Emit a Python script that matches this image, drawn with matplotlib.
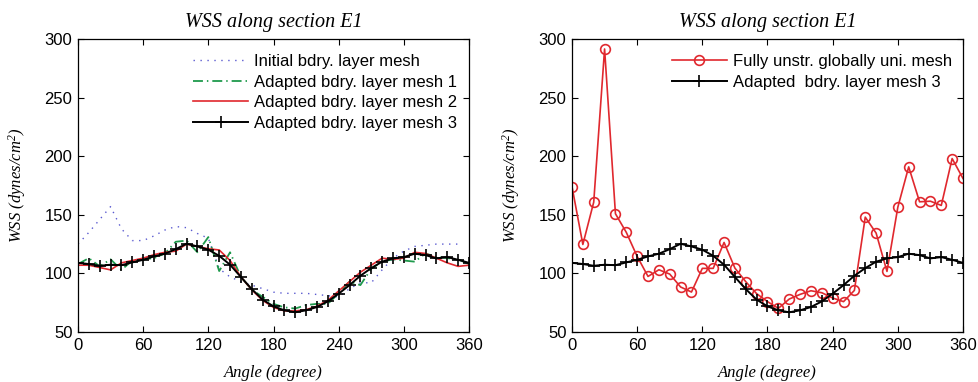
# -*- coding: utf-8 -*-
"""
WSS along section E1: boundary layer mesh comparison (left) and
fully unstructured mesh vs adapted mesh 3 (right).
"""
import matplotlib
matplotlib.use("Agg")
import matplotlib.pyplot as plt

# Data
angle = list(range(0, 361, 10))
angle_initial = list(range(0, 351, 10))

wss_initial = [125, 135, 146, 157, 138, 128, 128, 132, 137, 140,
               139, 134, 130, 104, 97, 93, 90, 87, 84, 83,
               83, 83, 82, 81, 80, 87, 92, 92, 103, 113,
               119, 123, 124, 125, 125, 125]

wss_mesh1 = [108, 113, 106, 112, 103, 111, 112, 113, 117, 127,
             128, 118, 131, 102, 118, 97, 86, 80, 74, 71,
             70, 73, 74, 74, 83, 93, 90, 104, 110, 112,
             111, 110, 117, 114, 113, 112, 108]

wss_mesh2 = [107, 107, 105, 103, 109, 111, 113, 116, 118, 119,
             125, 123, 121, 120, 111, 97, 86, 77, 71, 68,
             68, 69, 72, 77, 85, 93, 101, 107, 113, 112,
             113, 118, 117, 113, 109, 106, 107]

wss_mesh3 = [109, 108, 106.5, 107.4, 107, 109.4, 111.6, 114.5, 116.8, 120.7,
             125.3, 123, 120.2, 115, 107.4, 96.9, 86.6, 77.6, 71.9, 68.5,
             66.8, 68.5, 71.3, 76.1, 82.7, 90, 98, 104.5, 110, 112.8,
             113.9, 116.8, 115.6, 112.8, 113.9, 111.6, 109]

wss_unstr = [174, 124.7, 160.8, 291.5, 150.9, 135, 114.5, 97.4, 103.1, 99.4,
             88.4, 84.1, 104.3, 104.3, 126.4, 104.5, 92.9, 82.7, 75.9, 70.2,
             78.1, 82.1, 85.2, 83.5, 79, 75.9, 85.5, 148, 134.4, 101.7,
             156.5, 190.9, 161.1, 161.6, 158, 198, 181]

x_ticks = [0, 60, 120, 180, 240, 300, 360]
y_ticks = [50, 100, 150, 200, 250, 300]

# Fonts
plt.rcParams["font.family"] = "Liberation Sans"
plt.rcParams["mathtext.fontset"] = "custom"
plt.rcParams["mathtext.it"] = "Liberation Serif:italic"
plt.rcParams["mathtext.rm"] = "Liberation Serif:italic"

BLUE = "#5a5ad0"
GREEN = "#1f9a4c"
RED = "#e0282e"

serif_it = {"family": "Liberation Serif", "style": "italic"}

W, H = 979, 382
fig = plt.figure(figsize=(W / 100, H / 100), dpi=100)
ax1 = fig.add_axes([78 / W, 50 / H, 391 / W, 293 / H])
ax2 = fig.add_axes([572 / W, 50 / H, 391 / W, 293 / H])


def style_axes(ax):
    ax.set_xlim(0, 360)
    ax.set_ylim(50, 300)
    ax.set_xticks(x_ticks)
    ax.set_yticks(y_ticks)
    ax.tick_params(direction="in", length=4, width=0.8, top=True,
                   right=True, labelsize=12, pad=4)
    for sp in ax.spines.values():
        sp.set_linewidth(0.9)
    ax.set_title("WSS along section E1", fontdict=serif_it, fontsize=14.5,
                 pad=9)
    ax.set_xlabel("Angle (degree)", fontdict=serif_it, fontsize=12,
                  labelpad=9)
    ax.set_ylabel(r"WSS (dynes/cm$^2$)", fontdict=serif_it, fontsize=12,
                  labelpad=12)


# Left panel
ax1.plot(angle_initial, wss_initial, color=BLUE, lw=1.0,
         linestyle=(0, (1, 4)), label="Initial bdry. layer mesh")
ax1.plot(angle, wss_mesh1, color=GREEN, lw=1.3,
         linestyle=(0, (5.5, 2.2, 0.8, 2.2)),
         label="Adapted bdry. layer mesh 1")
ax1.plot(angle, wss_mesh2, color=RED, lw=1.2,
         label="Adapted bdry. layer mesh 2")
ax1.plot(angle, wss_mesh3, color="black", lw=1.4, marker="+",
         markersize=8, markeredgewidth=1.2,
         label="Adapted bdry. layer mesh 3")
style_axes(ax1)
ax1.legend(loc="upper left", bbox_to_anchor=(0.295, 0.948), frameon=False,
           fontsize=12, handlelength=3.3, handletextpad=0.35,
           labelspacing=0.33, borderpad=0, borderaxespad=0)

# Right panel
ax2.plot(angle, wss_unstr, color=RED, lw=1.2, marker="o", markersize=7,
         markerfacecolor="none", markeredgewidth=1.2,
         label="Fully unstr. globally uni. mesh")
ax2.plot(angle, wss_mesh3, color="black", lw=1.4, marker="+",
         markersize=8, markeredgewidth=1.2,
         label="Adapted  bdry. layer mesh 3")
style_axes(ax2)
ax2.legend(loc="upper left", bbox_to_anchor=(0.255, 0.948), frameon=False,
           fontsize=12, handlelength=3.3, handletextpad=0.35,
           labelspacing=0.33, borderpad=0, borderaxespad=0)

fig.savefig("out.png", dpi=100)
